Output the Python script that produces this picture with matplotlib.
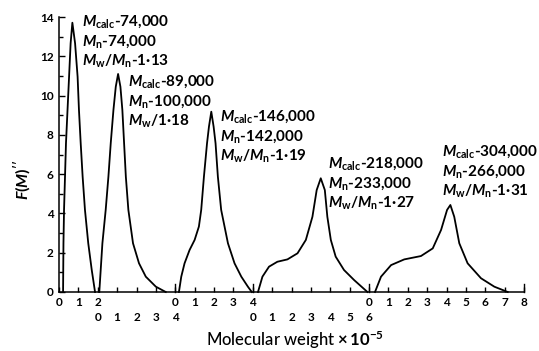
import matplotlib
matplotlib.use("Agg")
import matplotlib.pyplot as plt
import matplotlib.transforms as mtransforms

plt.rcParams['font.family'] = ['Lato', 'DejaVu Sans']
plt.rcParams['mathtext.fontset'] = 'custom'
plt.rcParams['mathtext.rm'] = 'Lato:weight=bold'
plt.rcParams['mathtext.it'] = 'Lato:style=italic:weight=bold'
plt.rcParams['mathtext.bf'] = 'Lato:weight=bold'

# origin of each sub-scale on the shared axis (units of 1e5)
scale_origin = [0, 2, 6, 10, 16]
scale_max = [2, 4, 4, 6, 8]
label_row = [0, 1, 0, 1, 0]

# curves, x in local scale units, y = F(M)''
c1_x = [0.21, 0.23, 0.26, 0.31, 0.36, 0.44, 0.52, 0.6, 0.69,
        0.83, 0.96, 1.03, 1.12, 1.22, 1.34, 1.51, 1.69, 1.86]
c1_y = [0.0, 2.48, 4.18, 5.87, 7.57, 9.27, 10.96, 12.66, 13.71,
        12.66, 10.96, 9.27, 7.57, 5.87, 4.18, 2.48, 1.12, 0.0]

c2_x = [0.08, 0.24, 0.41, 0.55, 0.67, 0.81, 0.93, 1.05,
        1.17, 1.27, 1.36, 1.45, 1.58, 1.82, 2.13, 2.48, 3.0, 3.51]
c2_y = [0.0, 2.48, 4.18, 5.87, 7.57, 9.27, 10.45, 11.1,
        10.45, 9.27, 7.57, 5.87, 4.18, 2.48, 1.46, 0.78, 0.27, 0.0]

c3_x = [0.19, 0.31, 0.48, 0.74, 1.0, 1.22, 1.34, 1.48, 1.64, 1.74, 1.86,
        1.98, 2.08, 2.2, 2.37, 2.72, 3.06, 3.41, 3.75, 3.95]
c3_y = [0.0, 0.78, 1.46, 2.14, 2.65, 3.33, 4.18, 5.87, 7.57, 8.42, 9.18,
        8.42, 7.57, 5.87, 4.18, 2.48, 1.46, 0.78, 0.27, 0.0]

c4_x = [0.27, 0.5, 0.84, 1.27, 1.79, 2.31, 2.74, 3.08, 3.3, 3.51,
        3.72, 3.85, 4.03, 4.28, 4.71, 5.23, 5.92]
c4_y = [0.0, 0.78, 1.29, 1.54, 1.66, 1.97, 2.65, 3.83, 5.19, 5.79,
        5.19, 3.83, 2.65, 1.8, 1.12, 0.61, 0.0]

c5_x = [0.31, 0.62, 1.14, 1.82, 2.68, 3.29, 3.72, 4.03, 4.2,
        4.4, 4.66, 5.09, 5.78, 6.47, 7.16]
c5_y = [0.0, 0.78, 1.37, 1.66, 1.83, 2.22, 3.16, 4.18, 4.43,
        3.83, 2.48, 1.46, 0.7, 0.27, 0.0]

curves = [(c1_x, c1_y), (c2_x, c2_y), (c3_x, c3_y), (c4_x, c4_y), (c5_x, c5_y)]

notes = [
    [r"$M_{\rm calc}$-74,000", r"$M_{\rm n}$-74,000", r"$M_{\rm w}/M_{\rm n}$-1·13"],
    [r"$M_{\rm calc}$-89,000", r"$M_{\rm n}$-100,000", r"$M_{\rm w}$/1·18"],
    [r"$M_{\rm calc}$-146,000", r"$M_{\rm n}$-142,000", r"$M_{\rm w}/M_{\rm n}$-1·19"],
    [r"$M_{\rm calc}$-218,000", r"$M_{\rm n}$-233,000", r"$M_{\rm w}/M_{\rm n}$-1·27"],
    [r"$M_{\rm calc}$-304,000", r"$M_{\rm n}$-266,000", r"$M_{\rm w}/M_{\rm n}$-1·31"],
]
note_pos = [(1.19, 13.75), (3.56, 10.69), (8.31, 8.91), (13.88, 6.52), (19.77, 7.13)]


def main():
    fig = plt.figure(figsize=(5.39, 3.51), dpi=100)
    ax = fig.add_axes([59 / 539, 59 / 351, 465 / 539, 275 / 351])

    for i, (x, y) in enumerate(curves):
        xs = [scale_origin[i] + v for v in x]
        ax.plot(xs, y, color='black', lw=1.3, clip_on=False, solid_joinstyle='round')

    ax.set_xlim(0, 24)
    ax.set_ylim(0, 14)
    ax.spines['top'].set_visible(False)
    ax.spines['right'].set_visible(False)
    ax.spines['left'].set_linewidth(1.1)
    ax.spines['bottom'].set_linewidth(1.1)

    # y axis
    ax.set_yticks(range(0, 15, 2))
    ax.set_yticks(range(1, 15, 2), minor=True)
    ax.tick_params(axis='y', which='major', direction='in', length=4, width=1,
                   labelsize=8.5, pad=4)
    ax.tick_params(axis='y', which='minor', direction='in', length=3, width=1)
    for lab in ax.get_yticklabels():
        lab.set_fontweight('bold')

    # x axis: integer ticks, labels drawn per sub-scale on two rows
    ax.set_xticks(range(0, 25))
    ax.set_xticklabels([])
    ax.tick_params(axis='x', which='major', direction='in', length=3.5, width=1)
    for b in [6, 10, 16, 24]:
        ax.plot([b, b], [0, 0.4], color='black', lw=1, clip_on=False)

    trans = mtransforms.blended_transform_factory(ax.transData, ax.transAxes)
    row_y = [-0.04, -0.091]
    for i in range(5):
        for k in range(scale_max[i] + 1):
            ax.text(scale_origin[i] + k, row_y[label_row[i]], str(k), transform=trans,
                    ha='center', va='center', fontsize=8.5, fontweight='bold')

    for lines, (nx, ny) in zip(notes, note_pos):
        for j, s in enumerate(lines):
            ax.text(nx, ny - j * 1.0, s, ha='left', va='center', fontsize=11,
                    fontweight='bold')

    ax.set_ylabel(r"$F(M)''$", fontsize=11.5)
    ax.yaxis.set_label_coords(-0.052, 0.407)
    ax.set_xlabel(r"Molecular weight $\times\,10^{-5}$", fontsize=12,
                  fontweight='medium')
    ax.xaxis.set_label_coords(0.508, -0.135)

    fig.savefig("out.png", dpi=100)


if __name__ == "__main__":
    main()
